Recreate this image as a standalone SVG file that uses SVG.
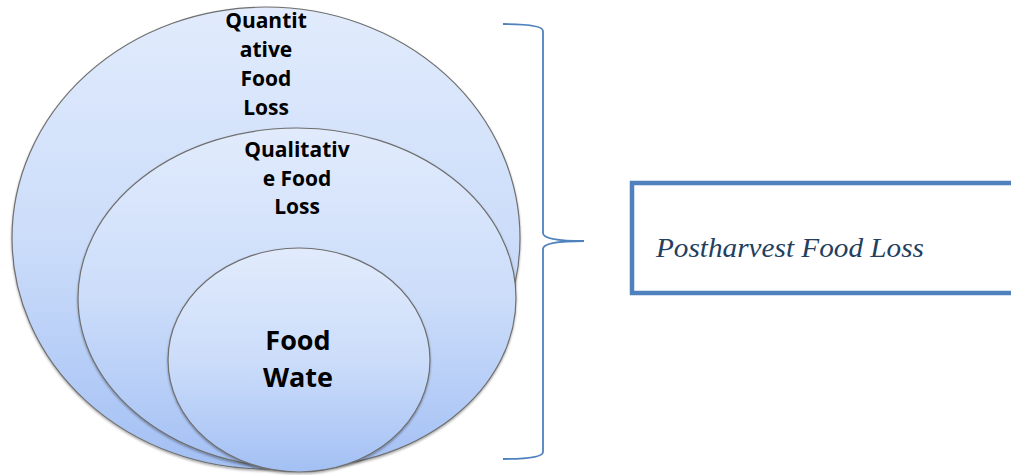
<svg xmlns="http://www.w3.org/2000/svg" width="1011" height="475" viewBox="0 0 1011 475">
<style>
.ell{stroke:#6f6f6f;stroke-width:1.2;fill:url(#g);filter:url(#sh)}
.lbl{font-family:"Open Sans","Liberation Sans",sans-serif;font-weight:bold;fill:#000;text-anchor:middle}
.s{font-size:21px}
.b{font-size:27px}
.brace{fill:none;stroke:#4F81BD;stroke-width:1.8}
.box{fill:#fff;stroke:#4F81BD;stroke-width:4.5}
.pf{font-family:"Liberation Serif","DejaVu Serif",serif;font-style:italic;font-size:27px;fill:#243F60}
</style>
<defs>
<linearGradient id="g" x1="0" y1="0" x2="0" y2="1">
<stop offset="0" stop-color="#E1EBFC"/>
<stop offset="0.5" stop-color="#CCDDFA"/>
<stop offset="1" stop-color="#A3C0F4"/>
</linearGradient>
<filter id="sh" x="-5%" y="-5%" width="110%" height="110%">
<feDropShadow dx="0" dy="1.5" stdDeviation="1.2" flood-color="#000" flood-opacity="0.35"/>
</filter>
</defs>
<rect width="1011" height="475" fill="#fff"/>
<g id="quantitative">
<ellipse class="ell" cx="266" cy="238" rx="254" ry="231"/>
<text class="lbl s" x="266" y="28">Quantit</text>
<text class="lbl s" x="266" y="57">ative</text>
<text class="lbl s" x="266" y="86">Food</text>
<text class="lbl s" x="266" y="115">Loss</text>
</g>
<g id="qualitative">
<ellipse class="ell" cx="297" cy="298" rx="219" ry="170"/>
<text class="lbl s" x="297" y="157">Qualitativ</text>
<text class="lbl s" x="297" y="186">e Food</text>
<text class="lbl s" x="297" y="214">Loss</text>
</g>
<g id="foodwaste">
<ellipse class="ell" cx="299" cy="360" rx="131" ry="112"/>
<text class="lbl b" x="298" y="350">Food</text>
<text class="lbl b" x="298" y="387">Wate</text>
</g>
<g id="connectors">
<path class="brace" d="M503,24 Q543,24 543,31 L543,233 Q543,241 584,241 Q543,241 543,249 L543,452 Q543,459 503,459"/>
</g>
<g id="postharvest">
<rect class="box" x="632" y="183" width="400" height="110"/>
<text class="pf" x="656" y="257" textLength="268" lengthAdjust="spacingAndGlyphs">Postharvest Food Loss</text>
</g>
</svg>
